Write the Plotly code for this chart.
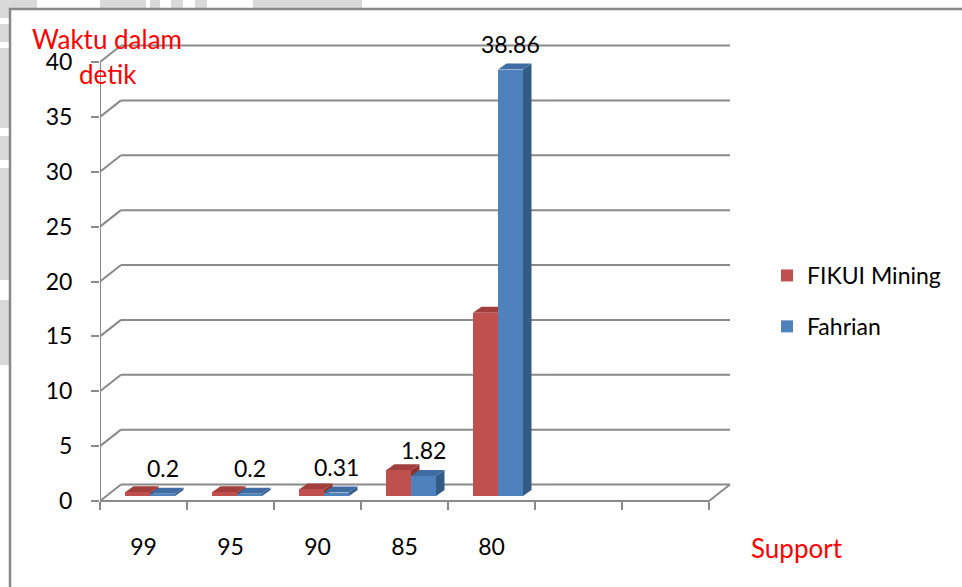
import plotly.graph_objects as go

# ---------------- data ----------------
categories = ["99", "95", "90", "85", "80"]
n_slots = 7
fikui = [0.35, 0.35, 0.6, 2.35, 16.7]
fahrian = [0.2, 0.2, 0.31, 1.82, 38.86]
fahrian_labels = ["0.2", "0.2", "0.31", "1.82", "38.86"]
y_ticks = [0, 5, 10, 15, 20, 25, 30, 35, 40]
series_names = ["FIKUI Mining", "Fahrian"]

# ---------------- geometry (pixels) ----------------
W, H = 962, 587
PL, PR, PT, PB = 100, 735, 40, 515      # plot area edges
X0PX, XSCALE = 100, 87.0                # px of x=0, px per slot
Y0PX, YSCALE = 501, 10.975              # px of y=0, px per unit

xr = [(PL - X0PX) / XSCALE, (PR - X0PX) / XSCALE]
yr = [(Y0PX - PB) / YSCALE, (Y0PX - PT) / YSCALE]


def dxd(px):
    return px / XSCALE


def dyd(px):
    return px / YSCALE


def ppx(px):
    return (px - PL) / (PR - PL)


def ppy(py):
    return (PB - py) / (PB - PT)


FONT = "Lato"
GRID = "#8a8a8a"
RED, RED_TOP, RED_SIDE = "#C0504D", "#a23f3c", "#8e3532"
BLUE, BLUE_TOP, BLUE_SIDE = "#4F81BD", "#3f6ca3", "#345a86"

wall_dx, wall_dy = dxd(21), dyd(16.5)
bar_w = dxd(25)
shift_x, shift_y = dxd(6.5), dyd(5)
depth_x, depth_y = dxd(8.5), dyd(6)

shapes = []
# watermark strips (outside chart border)
wm = "#d9d9d9"
for (a, b) in [(0, 37), (100, 146), (150, 160), (171, 183), (195, 207), (253, 362)]:
    shapes.append(dict(type="rect", xref="paper", yref="paper", x0=ppx(a), x1=ppx(b),
                       y0=ppy(0), y1=ppy(9), line=dict(width=0), fillcolor=wm, layer="below"))
for (a, b) in [(0, 18), (24, 42), (48, 128), (136, 160), (168, 280), (300, 365)]:
    shapes.append(dict(type="rect", xref="paper", yref="paper", x0=ppx(0), x1=ppx(9),
                       y0=ppy(a), y1=ppy(b), line=dict(width=0), fillcolor=wm, layer="below"))
# chart border
shapes.append(dict(type="rect", xref="paper", yref="paper", x0=ppx(10), x1=ppx(980),
                   y0=ppy(9), y1=ppy(600), line=dict(color="#878787", width=2.5),
                   fillcolor="white", layer="below"))

# back wall gridlines + left wall slants
for v in y_ticks:
    shapes.append(dict(type="line", xref="x", yref="y", x0=0, y0=v, x1=wall_dx, y1=v + wall_dy,
                       line=dict(color=GRID, width=2), layer="below"))
    shapes.append(dict(type="line", xref="x", yref="y", x0=wall_dx, y0=v + wall_dy,
                       x1=n_slots + wall_dx, y1=v + wall_dy,
                       line=dict(color=GRID, width=2), layer="below"))
# floor front edge and right slant
shapes.append(dict(type="line", xref="x", yref="y", x0=0, y0=0, x1=n_slots, y1=0,
                   line=dict(color=GRID, width=2), layer="below"))
shapes.append(dict(type="line", xref="x", yref="y", x0=n_slots, y0=0, x1=n_slots + wall_dx, y1=wall_dy,
                   line=dict(color=GRID, width=2), layer="below"))
# front vertical axis
shapes.append(dict(type="line", xref="x", yref="y", x0=0, y0=0, x1=0, y1=y_ticks[-1],
                   line=dict(color=GRID, width=2), layer="below"))

red_x = [k + 0.5 + shift_x - bar_w / 2 for k in range(len(categories))]
blue_x = [k + 0.5 + shift_x + bar_w / 2 for k in range(len(categories))]


def faces(xc, val, top_col, side_col):
    xl, xrr = xc - bar_w / 2, xc + bar_w / 2
    b, t = shift_y, shift_y + val
    top = f"M {xl},{t} L {xl + depth_x},{t + depth_y} L {xrr + depth_x},{t + depth_y} L {xrr},{t} Z"
    side = f"M {xrr},{b} L {xrr + depth_x},{b + depth_y} L {xrr + depth_x},{t + depth_y} L {xrr},{t} Z"
    return [dict(type="path", xref="x", yref="y", path=side, fillcolor=side_col,
                 line=dict(width=0), layer="below"),
            dict(type="path", xref="x", yref="y", path=top, fillcolor=top_col,
                 line=dict(width=0), layer="below")]


for xc, v in zip(red_x, fikui):
    shapes += faces(xc, v, RED_TOP, RED_SIDE)
for xc, v in zip(blue_x, fahrian):
    shapes += faces(xc, v, BLUE_TOP, BLUE_SIDE)

fig = go.Figure()
fig.add_trace(go.Bar(x=red_x, y=fikui, base=[shift_y] * len(fikui), width=bar_w,
                     marker=dict(color=RED, line=dict(width=0)), name=series_names[0],
                     legendgroup="a"))
fig.add_trace(go.Bar(x=blue_x, y=fahrian, base=[shift_y] * len(fahrian), width=bar_w,
                     marker=dict(color=BLUE, line=dict(width=0)), name=series_names[1],
                     legendgroup="b"))

annotations = []
for xc, v, lab in zip(blue_x, fahrian, fahrian_labels):
    annotations.append(dict(x=xc, y=shift_y + v, xref="x", yref="y", text=lab, showarrow=False,
                            yshift=26, font=dict(family=FONT, size=23, color="black")))
red_font = dict(family=FONT, size=26, color="#FF0000")
annotations.append(dict(x=ppx(797), y=ppy(548), xref="paper", yref="paper", text="Support",
                        xanchor="center", yanchor="middle", showarrow=False, font=red_font))
annotations.append(dict(x=ppx(106.5), y=ppy(39), xref="paper", yref="paper", text="Waktu dalam",
                        xanchor="center", yanchor="middle", showarrow=False, font=red_font))
annotations.append(dict(x=ppx(107.5), y=ppy(74), xref="paper", yref="paper", text="detik",
                        xanchor="center", yanchor="middle", showarrow=False, font=red_font))

fig.update_layout(
    width=W, height=H,
    margin=dict(l=PL, r=W - PR, t=PT, b=H - PB, autoexpand=False),
    paper_bgcolor="white", plot_bgcolor="rgba(0,0,0,0)",
    barmode="overlay", bargap=0,
    font=dict(family=FONT, size=23, color="black"),
    showlegend=True,
    legend=dict(x=ppx(767), y=ppy(301), xanchor="left", yanchor="middle",
                font=dict(family=FONT, size=23, color="black"), tracegroupgap=18,
                bgcolor="rgba(0,0,0,0)"),
    xaxis=dict(range=xr, showgrid=False, zeroline=False, showline=False,
               tickmode="array", tickvals=[k + 0.5 for k in range(len(categories))],
               ticktext=categories, ticks="", anchor="free", position=ppy(Y0PX),
               ticklabelstandoff=30, tickfont=dict(family=FONT, size=23, color="black"),
               minor=dict(tickmode="linear", tick0=0, dtick=1, ticks="outside", ticklen=8,
                          tickwidth=2, tickcolor=GRID, showgrid=False)),
    yaxis=dict(range=yr, showgrid=False, zeroline=False, showline=False,
               tickmode="array", tickvals=y_ticks, ticks="outside", ticklen=8, tickwidth=2,
               tickcolor=GRID, ticklabelstandoff=14,
               tickfont=dict(family=FONT, size=23, color="black")),
    shapes=shapes,
    annotations=annotations,
)

fig.write_html("out.html")
